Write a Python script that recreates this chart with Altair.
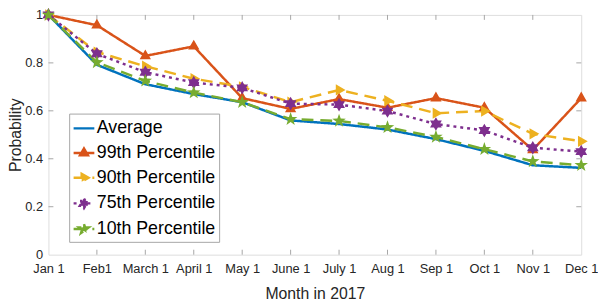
import math
import altair as alt
import pandas as pd

# ---------------- data ----------------
months = ["Jan 1", "Feb1", "March 1", "April 1", "May 1", "June 1",
          "July 1", "Aug 1", "Sep 1", "Oct 1", "Nov 1", "Dec 1"]
series_names = ["Average", "99th Percentile", "90th Percentile",
                "75th Percentile", "10th Percentile"]
average = [1.0, 0.792, 0.711, 0.670, 0.636, 0.560, 0.545, 0.522, 0.482, 0.433, 0.373, 0.362]
p99 = [1.0, 0.957, 0.829, 0.869, 0.653, 0.608, 0.649, 0.613, 0.653, 0.613, 0.437, 0.653]
p90 = [1.0, 0.845, 0.786, 0.734, 0.700, 0.636, 0.687, 0.642, 0.590, 0.599, 0.504, 0.473]
p75 = [1.0, 0.838, 0.761, 0.718, 0.696, 0.630, 0.626, 0.599, 0.545, 0.518, 0.446, 0.430]
p10 = [1.0, 0.802, 0.725, 0.676, 0.636, 0.565, 0.558, 0.531, 0.491, 0.440, 0.389, 0.373]
y_ticks = [0, 0.2, 0.4, 0.6, 0.8, 1]
x_title = "Month in 2017"
y_title = "Probability"

# ---------------- styles ----------------
colors = ["#0072BD", "#D95319", "#EDB120", "#7E2F8E", "#77AC30"]
dashes = [[1, 0], [1, 0], [12, 7], [3, 4], [12, 7]]
FONT = "Liberation Sans"
GRAY = "#a6a6a6"
TXT = "#262626"
W, H = 540, 243


def poly(points):
    return "M" + "L".join(f"{x:.3f},{y:.3f}" for x, y in points) + "Z"


def star(n, r_out, r_in):
    pts = []
    for k in range(2 * n):
        rr = r_out if k % 2 == 0 else r_in
        a = -math.pi / 2 + k * math.pi / n
        pts.append((rr * math.cos(a), rr * math.sin(a)))
    return poly(pts)


LINE = "M-1,0L1,0"
r = 0.44
tri_up = poly([(0, -r), (0.866 * r, 0.5 * r), (-0.866 * r, 0.5 * r)])
tri_right = poly([(r, 0), (-0.5 * r, -0.866 * r), (-0.5 * r, 0.866 * r)])
hexagram = star(6, 0.46, 0.46 / math.sqrt(3))
pentagram = star(5, 0.48, 0.48 * 0.40)
shapes = [LINE, LINE + tri_up, LINE + tri_right, LINE + hexagram, LINE + pentagram]

rows = []
for name, vals in zip(series_names, [average, p99, p90, p75, p10]):
    for i, v in enumerate(vals):
        rows.append({"series": name, "idx": i, "value": v})
df = pd.DataFrame(rows)

xticks_df = pd.DataFrame({"idx": list(range(1, len(months) - 1))})
yticks_df = pd.DataFrame({"value": y_ticks[1:-1]})

label_expr = "[" + ",".join("'" + m + "'" for m in months) + "][datum.value]"

x_enc = alt.X("idx:Q",
              scale=alt.Scale(domain=[0, len(months) - 1], nice=False, zero=False),
              axis=alt.Axis(values=list(range(len(months))), labelExpr=label_expr,
                            title=x_title, grid=False, domain=False, ticks=False,
                            labelPadding=8, titlePadding=10, labelFontSize=13,
                            titleFontSize=16, labelFont=FONT, titleFont=FONT,
                            labelColor=TXT, titleColor=TXT, titleFontWeight="normal",
                            labelOverlap=False, labelFlush=False, labelBound=False))
y_enc = alt.Y("value:Q",
              scale=alt.Scale(domain=[0, 1], nice=False, zero=True),
              axis=alt.Axis(values=y_ticks, format=".1~f", title=y_title, grid=False,
                            domain=False, ticks=False, labelPadding=6, titlePadding=1,
                            labelFontSize=13, titleFontSize=16, labelFont=FONT,
                            titleFont=FONT, labelColor=TXT, titleColor=TXT,
                            titleFontWeight="normal", labelFlush=False))

leg = alt.Legend(title=None, orient="none", legendX=21, legendY=100, padding=3,
                 labelFont=FONT, labelFontSize=18, labelColor="black",
                 strokeColor=GRAY, fillColor="white", symbolSize=441,
                 symbolStrokeWidth=2.5, rowPadding=4, labelOffset=1, cornerRadius=0)
color_enc = alt.Color("series:N", scale=alt.Scale(domain=series_names, range=colors), legend=leg)
dash_enc = alt.StrokeDash("series:N", scale=alt.Scale(domain=series_names, range=dashes), legend=leg)
shape_enc = alt.Shape("series:N", scale=alt.Scale(domain=series_names, range=shapes), legend=leg)

tick_style = dict(color=GRAY, strokeWidth=1)
bottom_ticks = alt.Chart(xticks_df).mark_rule(**tick_style).encode(
    x=x_enc, y=alt.value(H), y2=alt.value(H - 5))
top_ticks = alt.Chart(xticks_df).mark_rule(**tick_style).encode(
    x=x_enc, y=alt.value(0), y2=alt.value(5))
left_ticks = alt.Chart(yticks_df).mark_rule(**tick_style).encode(
    y=y_enc, x=alt.value(0), x2=alt.value(5))
right_ticks = alt.Chart(yticks_df).mark_rule(**tick_style).encode(
    y=y_enc, x=alt.value(W - 5), x2=alt.value(W))

lines = alt.Chart(df).mark_line(strokeWidth=2.5).encode(
    x=x_enc, y=y_enc, color=color_enc, strokeDash=dash_enc, detail="series:N")
points = alt.Chart(df).transform_filter(alt.datum.series != "Average").mark_point(
    filled=True, size=900, opacity=1).encode(
    x=x_enc, y=y_enc, color=color_enc, shape=shape_enc)

chart = alt.layer(bottom_ticks, top_ticks, left_ticks, right_ticks, lines, points).properties(
    width=W, height=H,
    padding={"left": 41, "top": 5, "right": 17, "bottom": 50},
    autosize=alt.AutoSizeParams(type="none"),
).configure_view(stroke=GRAY, strokeWidth=1).configure(background="white")

chart.save("out.html", embed_options={"renderer": "svg", "actions": False})
